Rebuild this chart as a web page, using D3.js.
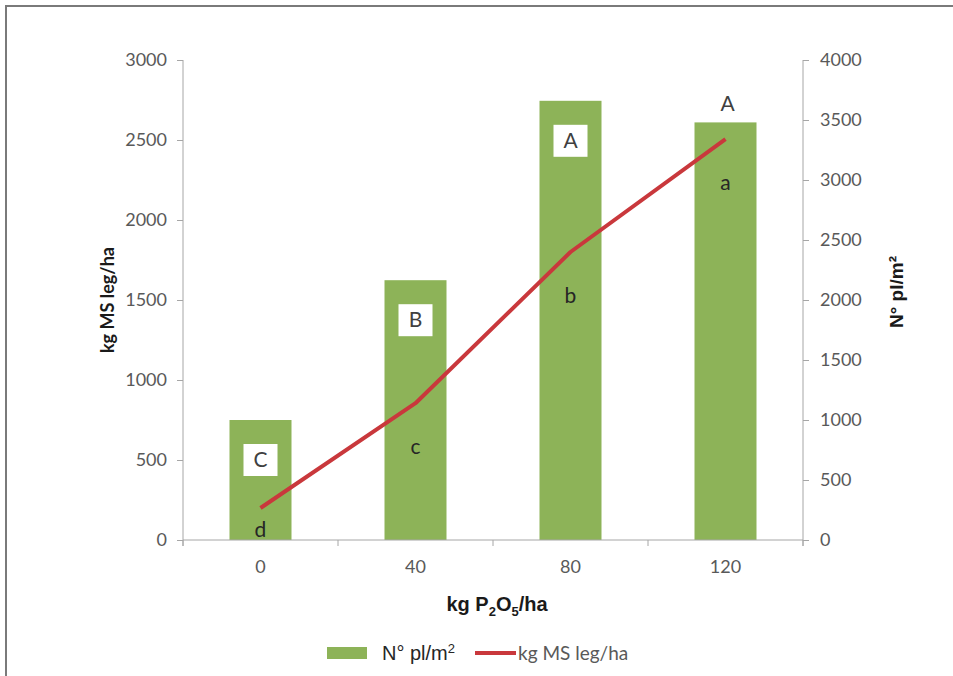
<!DOCTYPE html>
<html>
<head>
<meta charset="utf-8">
<script src="https://cdn.jsdelivr.net/npm/d3@7"></script>
<style>
  html, body { margin: 0; padding: 0; background: #fff; }
  svg { display: block; }
</style>
</head>
<body>
<svg id="chart" width="953" height="676"></svg>
<script>
// P2O5 doses (kg/ha)
const categories = ["0", "40", "80", "120"];
// Plant density, N° pl/m² (bars, right axis)
const plants = [1000, 2165, 3660, 3480];
// Legume dry matter, kg MS leg/ha (line, left axis)
const biomass = [200, 855, 1800, 2505];
// Significance letters
const plantLetters = ["C", "B", "A", "A"];
const biomassLetters = ["d", "c", "b", "a"];
// Axis ticks
const leftTicks = [0, 500, 1000, 1500, 2000, 2500, 3000];
const rightTicks = [0, 500, 1000, 1500, 2000, 2500, 3000, 3500, 4000];

const svg = d3.select("#chart");
const W = 953, H = 676;
const plot = { left: 183, right: 803, top: 60, bottom: 540 };

const GREEN = "#8db358";
const RED = "#c9383c";
const AXIS = "#a6a6a6";
const TICKTXT = "#595959";
const CAL = "Lato, 'Open Sans', sans-serif";
const ARIAL = "'Liberation Sans', Arial, sans-serif";

// outer frame
svg.append("rect")
  .attr("x", 6).attr("y", 6)
  .attr("width", W + 20).attr("height", H + 20)
  .attr("fill", "none").attr("stroke", "#7a7a7a").attr("stroke-width", 2);

const x = d3.scaleBand()
  .domain(categories)
  .range([plot.left, plot.right])
  .paddingInner(0.6)
  .paddingOuter(0.3);

const yL = d3.scaleLinear().domain([0, 3000]).range([plot.bottom, plot.top]);
const yR = d3.scaleLinear().domain([0, 4000]).range([plot.bottom, plot.top]);

// bars
svg.append("g").selectAll("rect")
  .data(categories)
  .join("rect")
  .attr("x", d => x(d))
  .attr("y", (d, i) => yR(plants[i]))
  .attr("width", x.bandwidth())
  .attr("height", (d, i) => yR(0) - yR(plants[i]))
  .attr("fill", GREEN);

// left axis
const axL = svg.append("g")
  .attr("transform", `translate(${plot.left},0)`)
  .call(d3.axisLeft(yL).tickValues(leftTicks).tickSize(6).tickPadding(10).tickFormat(d3.format("d")));
// right axis
const axR = svg.append("g")
  .attr("transform", `translate(${plot.right},0)`)
  .call(d3.axisRight(yR).tickValues(rightTicks).tickSize(6).tickPadding(11).tickFormat(d3.format("d")));

[axL, axR].forEach(g => {
  g.select(".domain").remove();
  g.selectAll(".tick line").attr("stroke", AXIS);
  g.selectAll(".tick text").attr("fill", TICKTXT)
    .style("font-family", CAL).style("font-size", "18px");
});
svg.append("line").attr("x1", plot.left).attr("x2", plot.left)
  .attr("y1", plot.top).attr("y2", plot.bottom + 6).attr("stroke", AXIS);
svg.append("line").attr("x1", plot.right).attr("x2", plot.right)
  .attr("y1", plot.top).attr("y2", plot.bottom + 6).attr("stroke", AXIS);

// bottom axis with tick marks between categories
const step = x.step();
const bounds = categories.map(c => x(c) + x.bandwidth() / 2 - step / 2)
  .concat([x(categories[categories.length - 1]) + x.bandwidth() / 2 + step / 2]);
const axB = svg.append("g");
axB.append("line")
  .attr("x1", plot.left).attr("x2", plot.right)
  .attr("y1", plot.bottom).attr("y2", plot.bottom)
  .attr("stroke", AXIS);
axB.selectAll("line.tk").data(bounds).join("line")
  .attr("class", "tk")
  .attr("x1", d => d).attr("x2", d => d)
  .attr("y1", plot.bottom).attr("y2", plot.bottom + 6)
  .attr("stroke", AXIS);
axB.selectAll("text").data(categories).join("text")
  .attr("x", d => x(d) + x.bandwidth() / 2)
  .attr("y", plot.bottom + 33)
  .attr("text-anchor", "middle")
  .attr("fill", TICKTXT)
  .style("font-family", CAL).style("font-size", "18px")
  .text(d => d);

// biomass line
const line = d3.line()
  .x((d, i) => x(categories[i]) + x.bandwidth() / 2)
  .y(d => yL(d));
svg.append("path")
  .datum(biomass)
  .attr("d", line)
  .attr("fill", "none")
  .attr("stroke", RED)
  .attr("stroke-width", 4)
  .attr("stroke-linejoin", "round");

// plant density letters: boxed inside the bar, or above the bar for the last one
categories.forEach((c, i) => {
  const cx = x(c) + x.bandwidth() / 2;
  const top = yR(plants[i]);
  if (i < categories.length - 1) {
    const cy = top + 40;
    svg.append("rect")
      .attr("x", cx - 17).attr("y", cy - 16)
      .attr("width", 34).attr("height", 32)
      .attr("fill", "#fff");
    svg.append("text")
      .attr("x", cx).attr("y", cy + 7)
      .attr("text-anchor", "middle")
      .attr("fill", "#404040")
      .style("font-family", CAL).style("font-size", "21px")
      .text(plantLetters[i]);
  } else {
    svg.append("text")
      .attr("x", cx + 2).attr("y", top - 11)
      .attr("text-anchor", "middle")
      .attr("fill", "#404040")
      .style("font-family", CAL).style("font-size", "21px")
      .text(plantLetters[i]);
  }
});

// biomass letters below the line points
categories.forEach((c, i) => {
  const cx = x(c) + x.bandwidth() / 2;
  const cy = Math.min(yL(biomass[i]) + 44, plot.bottom - 10);
  svg.append("text")
    .attr("x", cx).attr("y", cy + 7)
    .attr("text-anchor", "middle")
    .attr("fill", "#262626")
    .style("font-family", CAL).style("font-size", "21px")
    .text(biomassLetters[i]);
});

// axis titles
svg.append("text")
  .attr("transform", `translate(114,${(plot.top + plot.bottom) / 2}) rotate(-90)`)
  .attr("text-anchor", "middle")
  .attr("fill", "#1a1a1a")
  .style("font-family", CAL).style("font-size", "18px").style("font-weight", "bold")
  .text("kg MS leg/ha");

svg.append("text")
  .attr("transform", `translate(903,292) rotate(-90)`)
  .attr("text-anchor", "middle")
  .attr("fill", "#1a1a1a")
  .style("font-family", ARIAL).style("font-size", "19px").style("font-weight", "bold")
  .text("N°  pl/m²");

const xt = svg.append("text")
  .attr("x", 497).attr("y", 611)
  .attr("text-anchor", "middle")
  .attr("fill", "#1a1a1a")
  .style("font-family", ARIAL).style("font-size", "20px").style("font-weight", "bold");
xt.append("tspan").text("kg  P");
xt.append("tspan").attr("dy", 5).style("font-size", "13px").text("2");
xt.append("tspan").attr("dy", -5).text("O");
xt.append("tspan").attr("dy", 5).style("font-size", "13px").text("5");
xt.append("tspan").attr("dy", -5).text("/ha");

// legend
const lg = svg.append("g");
lg.append("rect")
  .attr("x", 327).attr("y", 647)
  .attr("width", 40).attr("height", 12)
  .attr("fill", GREEN);
const lt = lg.append("text")
  .attr("x", 382).attr("y", 660)
  .attr("fill", "#262626")
  .style("font-family", ARIAL).style("font-size", "20px");
lt.append("tspan").text("N° pl/m");
lt.append("tspan").attr("dy", -7).style("font-size", "13px").text("2");
lg.append("line")
  .attr("x1", 475).attr("x2", 516)
  .attr("y1", 653).attr("y2", 653)
  .attr("stroke", RED).attr("stroke-width", 4);
lg.append("text")
  .attr("x", 518).attr("y", 660)
  .attr("fill", TICKTXT)
  .style("font-family", CAL).style("font-size", "19px")
  .text("kg MS leg/ha");
</script>
</body>
</html>
